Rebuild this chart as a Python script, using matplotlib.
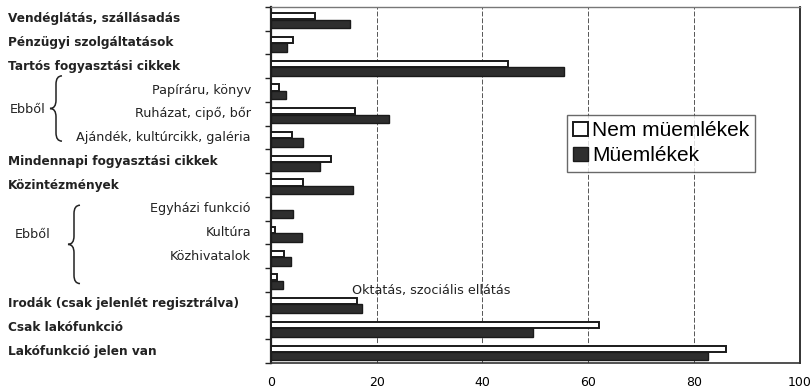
import matplotlib
matplotlib.use("Agg")
import matplotlib.pyplot as plt
from matplotlib.path import Path
from matplotlib.patches import PathPatch
from matplotlib.transforms import blended_transform_factory

# kategóriák felülről lefelé
kategoriak = [
    "Vendéglátás, szállásadás",
    "Pénzügyi szolgáltatások",
    "Tartós fogyasztási cikkek",
    "Papíráru, könyv",
    "Ruházat, cipő, bőr",
    "Ajándék, kultúrcikk, galéria",
    "Mindennapi fogyasztási cikkek",
    "Közintézmények",
    "Egyházi funkció",
    "Kultúra",
    "Közhivatalok",
    "Oktatás, szociális ellátás",
    "Irodák (csak jelenlét regisztrálva)",
    "Csak lakófunkció",
    "Lakófunkció jelen van",
]
# fő kategória (félkövér, balra) vagy "ebből" alkategória (jobbra igazítva)
fokategoria = [True, True, True, False, False, False, True, True,
               False, False, False, False, True, True, True]

nem_muemlek = [8.3, 4.2, 44.8, 1.5, 16.0, 4.0, 11.3, 6.0,
               0.0, 0.8, 2.5, 1.2, 16.2, 62.0, 86.0]
muemlek = [15.0, 3.0, 55.4, 2.8, 22.3, 6.1, 9.3, 15.5,
           4.2, 5.8, 3.8, 2.2, 17.2, 49.5, 82.6]

xtick_ertekek = [0, 20, 40, 60, 80, 100]

fig = plt.figure(figsize=(8.11, 3.9), dpi=100)
ax = fig.add_axes([0.334, 0.069, 0.652, 0.913])

y = list(range(len(kategoriak)))
ax.barh([v - 0.11 for v in y], nem_muemlek, height=0.26, color="white",
        edgecolor="#1a1a1a", linewidth=1.4, label="Nem müemlékek", zorder=3)
ax.barh([v + 0.21 for v in y], muemlek, height=0.36, color="#2e2e2e",
        edgecolor="#1a1a1a", linewidth=1.0, label="Müemlékek", zorder=3)

ax.set_xlim(0, 100)
ax.set_ylim(len(kategoriak) - 0.5, -0.5)
ax.set_xticks(xtick_ertekek)
ax.set_xticklabels([str(v) for v in xtick_ertekek], fontsize=9)
ax.tick_params(axis="x", length=0, pad=9)

ax.set_yticks([])
ax.set_yticks([v - 0.5 for v in range(len(kategoriak) + 1)], minor=True)
ax.tick_params(axis="y", which="minor", length=4, width=1.0, color="#222")

ax.grid(axis="x", color="#555", linestyle=(0, (5, 2)), linewidth=0.7, zorder=0)

ax.spines["left"].set_linewidth(1.6)
ax.spines["left"].set_color("#222")
ax.spines["bottom"].set_linewidth(1.2)
ax.spines["bottom"].set_color("#333")
ax.spines["right"].set_linewidth(1.4)
ax.spines["right"].set_color("#333")
ax.spines["top"].set_linewidth(1.0)
ax.spines["top"].set_color("#777")

# feliratok a bal oldalon: x ábra-koordinátában, y adatkoordinátában
tr = blended_transform_factory(fig.transFigure, ax.transData)
for i, nev in enumerate(kategoriak):
    if nev.startswith("Oktatás"):
        ax.text(30.3, i + 0.45, nev, fontsize=9.2, ha="center", va="center",
                color="#222", zorder=4)
    elif fokategoria[i]:
        ax.text(8 / 811, i, nev, transform=tr, fontsize=8.7, fontweight="bold",
                ha="left", va="center", color="#222")
    else:
        ax.text(251 / 811, i, nev, transform=tr, fontsize=9.2,
                ha="right", va="center", color="#222")


def kapcsos(x_jobb, szel, y_fent, y_lent):
    # kapcsos zárójel "{" alakban, csúcsa balra mutat
    xm = x_jobb - szel / 2
    xl = x_jobb - szel
    ym = (y_fent + y_lent) / 2
    r = 0.35
    pontok = [
        (x_jobb, y_fent), (xm, y_fent), (xm, y_fent + r),
        (xm, ym - r), (xm, ym), (xl, ym),
        (xm, ym), (xm, ym + r),
        (xm, y_lent - r), (xm, y_lent), (x_jobb, y_lent),
    ]
    kodok = [Path.MOVETO, Path.CURVE3, Path.CURVE3, Path.LINETO,
             Path.CURVE3, Path.CURVE3, Path.CURVE3, Path.CURVE3,
             Path.LINETO, Path.CURVE3, Path.CURVE3]
    fig.add_artist(PathPatch(Path(pontok, kodok), transform=tr, fill=False,
                             edgecolor="#222", linewidth=1.1))


kapcsos(62 / 811, 12 / 811, 2.4, 5.15)
ax.text(10 / 811, 3.8, "Ebből", transform=tr, fontsize=9.2, ha="left",
        va="center", color="#222")

kapcsos(80 / 811, 12 / 811, 7.85, 11.15)
ax.text(15 / 811, 9.1, "Ebből", transform=tr, fontsize=9.2, ha="left",
        va="center", color="#222")

leg = ax.legend(loc="upper left", bbox_to_anchor=(0.56, 0.697),
                prop={"family": "Liberation Sans", "size": 15},
                frameon=True, fancybox=False, edgecolor="#444",
                handlelength=0.7, handleheight=0.7, handletextpad=0.2,
                borderpad=0.3, labelspacing=0.3, borderaxespad=0)
leg.get_frame().set_linewidth(1.0)

fig.savefig("out.png", dpi=100)
